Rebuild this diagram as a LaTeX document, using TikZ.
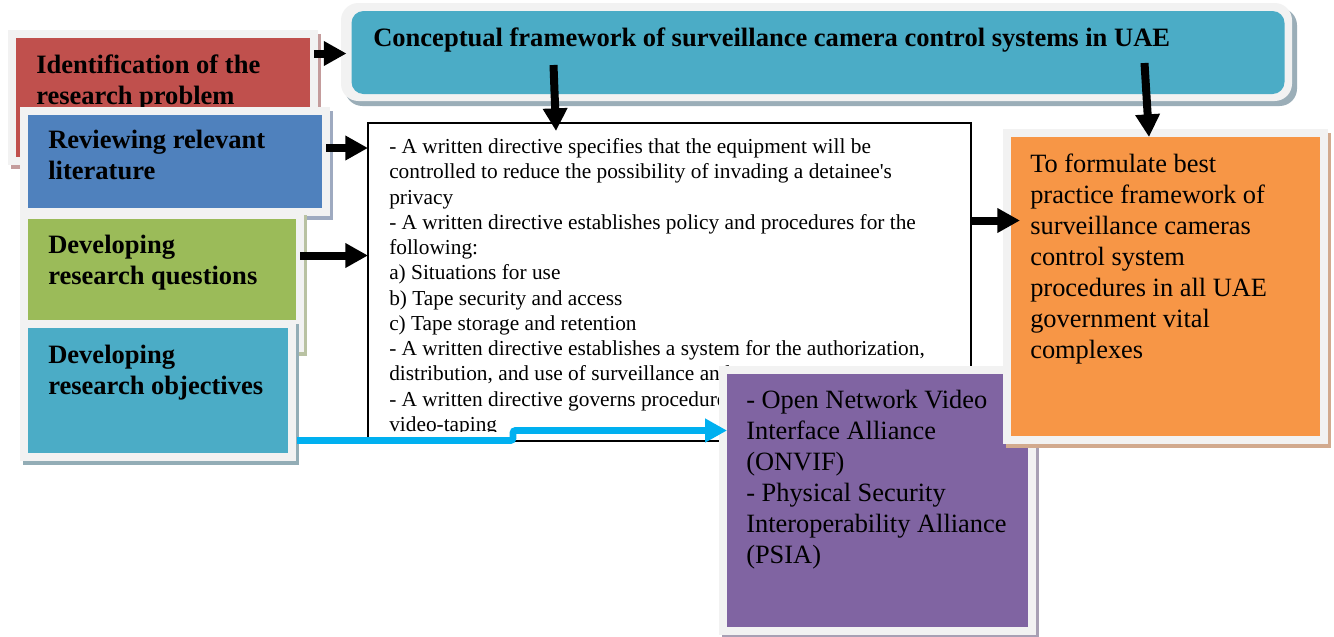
\documentclass[tikz,border=0pt]{standalone}
\usepackage{fontspec}
\setmainfont{Liberation Serif}
\usetikzlibrary{arrows.meta,calc}
\definecolor{frameg}{HTML}{F2F2F2}
\definecolor{cred}{HTML}{C0504D}
\definecolor{cblue}{HTML}{4F81BD}
\definecolor{cgreen}{HTML}{9BBB59}
\definecolor{cteal}{HTML}{4BACC6}
\definecolor{corange}{HTML}{F79646}
\definecolor{cpurple}{HTML}{8064A2}
\definecolor{ccyan}{HTML}{00B0F0}
\definecolor{shred}{HTML}{C49C9C}
\definecolor{shblue}{HTML}{9EAAC0}
\definecolor{shgreen}{HTML}{B9C2A2}
\definecolor{shteal}{HTML}{93ADB6}
\definecolor{shorange}{HTML}{D2AA8E}
\definecolor{shpurple}{HTML}{A8A0B4}
\definecolor{shtitle}{HTML}{9BAEB8}
\tikzset{
  boxlabel/.style={anchor=north west, inner sep=0pt, align=left,
    font=\fontsize{19.9}{23.25}\selectfont\bfseries},
  plainlabel/.style={anchor=north west, inner sep=0pt, align=left,
    font=\fontsize{19.8}{23.25}\selectfont},
  bodytext/.style={anchor=north west, inner sep=0pt, align=left,
    font=\fontsize{16}{18.95}\selectfont},
  arr/.style={line width=6pt, -{Triangle[length=17pt,width=17.5pt]}},
  cyanarr/.style={draw=ccyan, line width=5.2pt, rounded corners=2pt,
    -{Triangle[length=16.5pt,width=17pt]}},
  inbox/.style={inner sep=0pt, outer sep=0pt, draw=none},
}
% name, x1, y1, x2, y2 (inner coloured area, px), fill colour, shadow colour
\newcommand\colbox[7]{%
  \fill[#7] (#2-5,#3-4) rectangle (#4+11,#5+12);
  \fill[frameg] (#2-8,#3-8) rectangle (#4+8,#5+8);
  \node[inbox, fill=#6, minimum width={(#4-#2)*0.75pt}, minimum height={(#5-#3)*0.75pt}]
    (#1) at ({(#2+#4)/2},{(#3+#5)/2}) {};
}
\begin{document}
\begin{tikzpicture}[x=0.75pt,y=-0.75pt]
\useasboundingbox (0,0) rectangle (1334,636);
\fill[white] (0,0) rectangle (1334,636);

% left stacked boxes
\colbox{red}{16}{38}{310}{157}{cred}{shred}
\node[boxlabel] (redtxt) at (36,51.8) {\strut Identification of the\\research problem};
\colbox{blue}{28}{115}{322}{208}{cblue}{shblue}
\node[boxlabel] (bluetxt) at (48,126.6) {\strut Reviewing relevant\\literature};
\colbox{green}{28}{219}{296}{344}{cgreen}{shgreen}
\node[boxlabel] (greentxt) at (48,231.6) {\strut Developing\\research questions};
\colbox{teal}{28}{328}{288}{453}{cteal}{shteal}
\node[boxlabel] (tealtxt) at (48,341.6) {\strut Developing\\research objectives};

% title box
\fill[shtitle, rounded corners=13pt] (345,8) rectangle (1297,106);
\fill[frameg, rounded corners=13pt] (341,3) rectangle (1292,101);
\node[inbox, fill=cteal, rounded corners=9pt, minimum width=699.75pt, minimum height=62.25pt]
  (title) at (818,52.5) {};
\node[anchor=base west, inner sep=0pt, font=\fontsize{19.9}{23}\selectfont\bfseries]
  (titletxt) at (373,46.7) {Conceptual framework of surveillance camera control systems in UAE};

% main text box
\node[inbox, draw=black, line width=1.1pt, fill=white, minimum width=452.25pt, minimum height=238.5pt]
  (main) at (669.5,282) {};
\begin{scope}
\clip (370,124) rectangle (970,431);
\node[bodytext] (maintxt) at (389,135.6) {\strut - A written directive specifies that the equipment will be\\
controlled to reduce the possibility of invading a detainee\textquotesingle s\\
privacy\\
- A written directive establishes policy and procedures for the\\
following:\\
a) Situations for use\\
b) Tape security and access\\
c) Tape storage and retention\\
- A written directive establishes a system for the authorization,\\
distribution, and use of surveillance and\\
- A written directive governs procedures\\
video-taping};
\end{scope}

% purple box
\colbox{purple}{727}{374}{1028}{627}{cpurple}{shpurple}
\node[plainlabel] (purpletxt) at (746,386.6) {\strut - Open Network Video\\Interface Alliance\\(ONVIF)\\- Physical Security\\Interoperability Alliance\\(PSIA)};

% orange box
\colbox{orange}{1011}{137}{1320}{436}{corange}{shorange}
\node[plainlabel] (orangetxt) at (1030,150.3) {\strut To formulate best\\practice framework of\\surveillance cameras\\control system\\procedures in all UAE\\government vital\\complexes};

% arrows
\coordinate (r1) at ($(red.east |- title.west)+(4,1)$);
\draw[arr] (r1) -- ($(r1 -| title.west)+(-5,0)$);
\coordinate (b1) at ($(blue.east)+(4,-13.5)$);
\draw[arr] (b1) -- (b1 -| main.west);
\coordinate (g1) at ($(green.east)+(4,-26)$);
\draw[arr] (g1) -- (g1 -| main.west);
\coordinate (t1) at ($(title.south west)+(202,-29)$);
\coordinate (t1e) at ($(main.north west)+(188,8)$);
\draw[arr] (t1) -- (t1e);
\coordinate (t2) at ($(title.south west)+(793,-31)$);
\coordinate (t2e) at ($(orange.north west)+(138,0)$);
\draw[arr] (t2) -- (t2e);
\coordinate (m1) at ($(main.east)+(-1,-61.5)$);
\draw[arr] (m1) -- ($(m1 -| orange.west)+(9,0)$);
\coordinate (c1) at ($(teal.east)+(9,50)$);
\coordinate (c2) at ($(purple.west)+(0,-70)$);
\draw[cyanarr] (c1) -- ++(216,0) |- (c2);
\end{tikzpicture}
\end{document}
